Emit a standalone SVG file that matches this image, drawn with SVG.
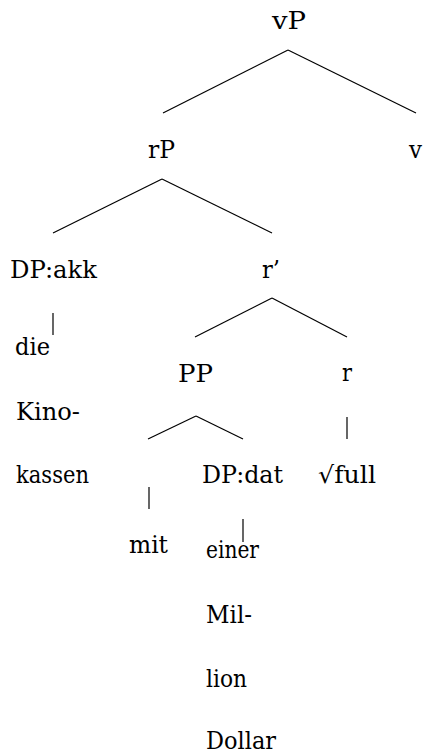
<svg xmlns="http://www.w3.org/2000/svg" width="425" height="753" viewBox="0 0 425 753">
<style>
.t text{font-family:'DejaVu Serif','Liberation Serif',serif;font-size:23.5px;fill:#000}
.e line{stroke:#000;stroke-width:1.2;fill:none}
</style>
<rect width="425" height="753" fill="#fff"/>
<g class="e" id="connectors">
<line x1="288" y1="50" x2="163" y2="113"/>
<line x1="288" y1="50" x2="416" y2="113"/>
<line x1="162" y1="179" x2="53" y2="233"/>
<line x1="162" y1="179" x2="272" y2="233"/>
<line x1="272" y1="298" x2="195" y2="337"/>
<line x1="272" y1="298" x2="347" y2="337"/>
<line x1="53" y1="313" x2="53" y2="335"/>
<line x1="196" y1="416" x2="148" y2="439"/>
<line x1="196" y1="416" x2="243" y2="439"/>
<line x1="347" y1="417" x2="347" y2="439"/>
<line x1="149" y1="487" x2="149" y2="509"/>
<line x1="243" y1="519" x2="243" y2="542"/>
</g>
<g class="t">
<g id="vP"><text x="272" y="29" textLength="34" lengthAdjust="spacingAndGlyphs">vP</text></g>
<g id="rP"><text x="148" y="158" textLength="27" lengthAdjust="spacingAndGlyphs">rP</text></g>
<g id="v"><text x="409" y="158" textLength="13" lengthAdjust="spacingAndGlyphs">v</text></g>
<g id="DPakk"><text x="10" y="278" textLength="87" lengthAdjust="spacingAndGlyphs">DP:akk</text></g>
<g id="rbar"><text x="262" y="278" textLength="18" lengthAdjust="spacingAndGlyphs">r’</text></g>
<g id="die"><text x="15" y="355" textLength="35" lengthAdjust="spacingAndGlyphs">die</text></g>
<g id="PP"><text x="178" y="382" textLength="35" lengthAdjust="spacingAndGlyphs">PP</text></g>
<g id="r"><text x="342" y="381" textLength="10" lengthAdjust="spacingAndGlyphs">r</text></g>
<g id="Kino"><text x="16" y="420" textLength="64" lengthAdjust="spacingAndGlyphs">Kino-</text></g>
<g id="kassen"><text x="16" y="483" textLength="73" lengthAdjust="spacingAndGlyphs">kassen</text></g>
<g id="DPdat"><text x="202" y="483" textLength="81" lengthAdjust="spacingAndGlyphs">DP:dat</text></g>
<g id="full"><text x="318" y="483" textLength="58" lengthAdjust="spacingAndGlyphs">√full</text></g>
<g id="mit"><text x="129" y="553" textLength="39" lengthAdjust="spacingAndGlyphs">mit</text></g>
<g id="einer"><text x="206" y="558" textLength="53" lengthAdjust="spacingAndGlyphs">einer</text></g>
<g id="Mil"><text x="206" y="623" textLength="46" lengthAdjust="spacingAndGlyphs">Mil-</text></g>
<g id="lion"><text x="206" y="687" textLength="41" lengthAdjust="spacingAndGlyphs">lion</text></g>
<g id="Dollar"><text x="206" y="749" textLength="70" lengthAdjust="spacingAndGlyphs">Dollar</text></g>
</g>
</svg>
